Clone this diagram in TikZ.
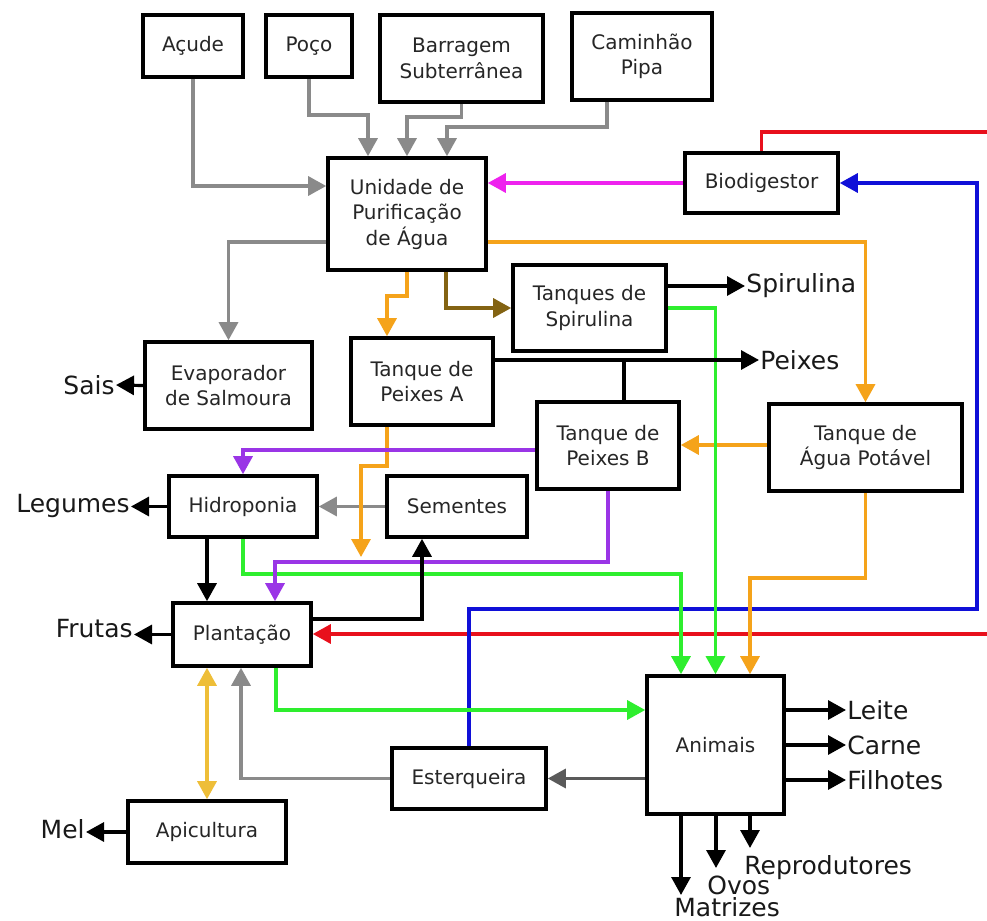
\documentclass[tikz,border=0pt]{standalone}
\usepackage{fontspec}
\setmainfont{DejaVu Sans}
\usetikzlibrary{arrows.meta}
\definecolor{cgray}{HTML}{8A8A8A}
\definecolor{cdgray}{HTML}{5A5A5A}
\definecolor{cmag}{HTML}{EE22EE}
\definecolor{cred}{HTML}{E8101C}
\definecolor{cblue}{HTML}{1010D8}
\definecolor{cor}{HTML}{F5A31A}
\definecolor{cbrown}{HTML}{836312}
\definecolor{cgreen}{HTML}{2EEE2E}
\definecolor{cpur}{HTML}{9A35E6}
\definecolor{cgold}{HTML}{EEBE38}
\newcommand{\bx}[6]{\node[box,minimum width={(#4-#2)*0.5pt},minimum height={(#5-#3)*0.5pt}] (#1) at ({(#2+#4)/2},{(#3+#5)/2}) {#6};}
\begin{document}
\begin{tikzpicture}[x=0.5pt,y=-0.5pt,
  box/.style={draw,line width=1.8pt,fill=white,inner sep=0pt,align=center,
    font=\fontsize{10}{12.75}\selectfont,text=black!85},
  lbl/.style={inner sep=0.5pt,font=\fontsize{12.5}{15}\selectfont,text=black!90},
  con/.style={line width=1.6pt,-{Triangle[length=9pt,width=9.5pt]}},
  plain/.style={line width=1.6pt},
  dbl/.style={line width=1.6pt,{Triangle[length=9pt,width=9.5pt]}-{Triangle[length=9pt,width=9.5pt]}}]
\useasboundingbox[fill=white] (0,0) rectangle (987,921);

% boxes
\bx{acude}{143}{15}{243}{77}{Açude}
\bx{poco}{266}{15}{352}{77}{Poço}
\bx{barr}{380}{15}{543}{102}{Barragem\\Subterrânea}
\bx{cam}{572}{13}{712}{100}{Caminhão\\Pipa}
\bx{unid}{328}{158}{486}{270}{Unidade de\\Purificação\\de Água}
\bx{bio}{685}{153}{838}{213}{Biodigestor}
\bx{tsp}{513}{265}{666}{351}{Tanques de\\Spirulina}
\bx{tpa}{351}{338}{493}{425}{Tanque de\\Peixes A}
\bx{evap}{145}{342}{312}{429}{Evaporador\\de Salmoura}
\bx{tpb}{537}{402}{679}{489}{Tanque de\\Peixes B}
\bx{tap}{769}{404}{962}{491}{Tanque de\\Água Potável}
\bx{hid}{169}{476}{317}{537}{Hidroponia}
\bx{sem}{387}{476}{527}{537}{Sementes}
\bx{plan}{173}{603}{311}{666}{Plantação}
\bx{api}{128}{801}{286}{863}{Apicultura}
\bx{est}{392}{748}{546}{809}{Esterqueira}
\bx{anim}{647}{676}{784}{814}{Animais}

% output labels
\node[lbl,anchor=west] (spir) at (745,286) {Spirulina};
\node[lbl,anchor=west] (peix) at (759,360) {Peixes};
\node[lbl,anchor=east] (sais) at (116,385) {Sais};
\node[lbl,anchor=east] (leg) at (131,506) {Legumes};
\node[lbl,anchor=east] (fru) at (134,629) {Frutas};
\node[lbl,anchor=east] (mel) at (86,829) {Mel};
\node[lbl,anchor=west] (leite) at (846,710) {Leite};
\node[lbl,anchor=west] (carne) at (846,745) {Carne};
\node[lbl,anchor=west] (filh) at (846,780) {Filhotes};
\node[lbl,anchor=base west] (repr) at (743,874) {Reprodutores};
\node[lbl,anchor=base west] (ovos) at (706,894) {Ovos};
\node[lbl,anchor=base west] (matr) at (673,916) {Matrizes};
\coordinate (reprT) at (750,848);
\coordinate (ovosT) at (716,868);
\coordinate (matrT) at (681,895);
\coordinate (redA) at (990,132);
\coordinate (redB) at (990,634);
\coordinate (orEnd) at (361,557);

% gray inputs
\draw[con,cgray] (acude.south) |- (unid.west |- 0,186);
\draw[con,cgray] (poco.south) |- (368,115) -- (unid.north -| 368,0);
\draw[con,cgray] (barr.south) |- (407,117) -- (unid.north);
\draw[con,cgray] (cam.south -| 607,0) |- (447,127) -- (unid.north -| 447,0);
\draw[con,cgray] (unid.west |- 0,242) -| (evap.north);
\draw[con,cgray] (sem.west) -- (hid.east);
\draw[con,cgray] (est.west) -| (plan.south -| 241,0);
\draw[con,cdgray] (anim.west |- est.west) -- (est.east);

% magenta
\draw[con,cmag] (bio.west) -- (unid.east |- bio.west);

% red
\draw[plain,cred] (bio.north) |- (redA);
\draw[con,cred] (redB) -- (plan.east |- redB);

% blue
\draw[con,cblue] (est.north) |- (977,609) |- (bio.east);

% orange
\draw[con,cor] (unid.east |- 0,242) -| (tap.north);
\draw[con,cor] (unid.south) |- (387,296) -- (tpa.north -| 387,0);
\draw[con,cor] (tpa.south -| 387,0) |- (361,466) -- (orEnd);
\draw[con,cor] (tap.west |- 0,445) -- (tpb.east |- 0,445);
\draw[con,cor] (tap.south) |- (750,578) -- (anim.north -| 750,0);

% brown
\draw[con,cbrown] (unid.south -| 446,0) |- (tsp.west);

% green
\draw[con,cgreen] (tsp.east |- 0,308) -| (anim.north);
\draw[con,cgreen] (hid.south) |- (681,574) -- (anim.north -| 681,0);
\draw[con,cgreen] (plan.south -| 276,0) |- (anim.west |- 0,710);

% purple
\draw[con,cpur] (tpb.west |- 0,450) -| (hid.north);
\draw[con,cpur] (tpb.south) |- (275,562) -- (plan.north -| 275,0);

% black
\draw[con,black] (hid.south -| 207,0) -- (plan.north -| 207,0);
\draw[con,black] (plan.east |- 0,619) -| (sem.south -| 422,0);
\draw[con,black] (tpa.east |- 0,360) -- (peix.west);
\draw[plain,black] (tpb.north -| 624,0) -- (624,360);
\draw[con,black] (tsp.east |- 0,286) -- (spir.west);
\draw[con,black] (evap.west) -- (sais.east);
\draw[con,black] (hid.west) -- (leg.east |- hid.west);
\draw[con,black] (plan.west) -- (fru.east |- plan.west);
\draw[con,black] (api.west) -- (mel.east |- api.west);
\draw[con,black] (anim.east |- leite.west) -- (leite.west);
\draw[con,black] (anim.east |- carne.west) -- (carne.west);
\draw[con,black] (anim.east |- filh.west) -- (filh.west);
\draw[con,black] (anim.south -| reprT) -- (reprT);
\draw[con,black] (anim.south -| ovosT) -- (ovosT);
\draw[con,black] (anim.south -| matrT) -- (matrT);

% gold double arrow
\draw[dbl,cgold] (plan.south -| api.north) -- (api.north);
\end{tikzpicture}
\end{document}
